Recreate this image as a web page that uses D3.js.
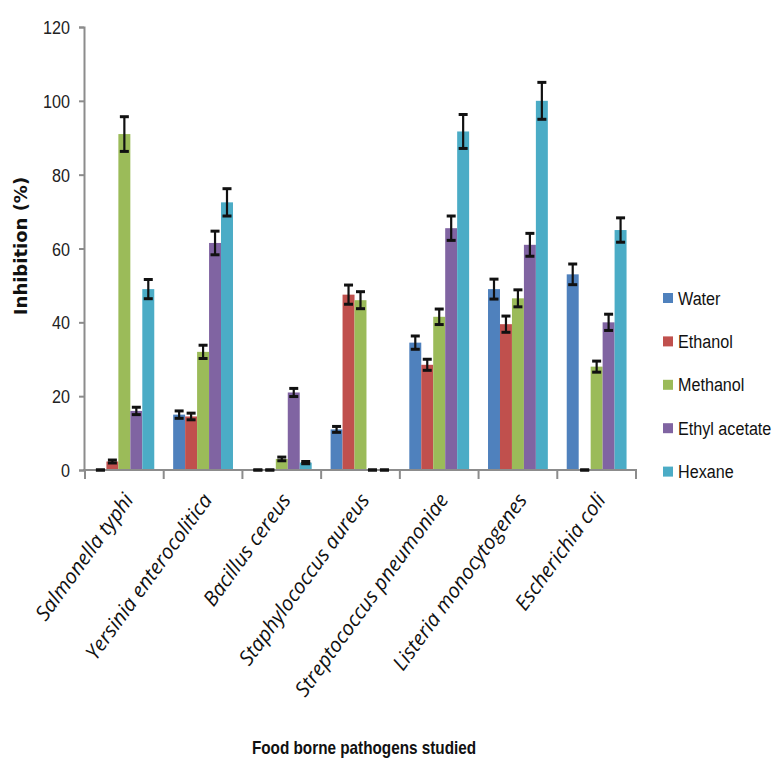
<!DOCTYPE html>
<html>
<head>
<meta charset="utf-8">
<script src="https://cdn.jsdelivr.net/npm/d3@7"></script>
<style>
  body { margin: 0; background: #fff; }
  svg { display: block; }
</style>
</head>
<body>
<svg width="775" height="763"></svg>
<script>
// pathogens on the x axis
var categories = ["Salmonella typhi", "Yersinia enterocolitica", "Bacillus cereus",
  "Staphylococcus aureus", "Streptococcus pneumoniae", "Listeria monocytogenes", "Escherichia coli"];

var seriesNames = ["Water", "Ethanol", "Methanol", "Ethyl acetate", "Hexane"];
var colors = ["#4F81BD", "#C0504D", "#9BBB59", "#8064A2", "#4BACC6"];

// inhibition (%) per extract
var water        = [0, 15, 0, 11, 34.5, 49, 53];
var ethanol      = [2.3, 14.5, 0, 47.5, 28.5, 39.5, 0];
var methanol     = [91, 32, 3, 46, 41.5, 46.5, 28];
var ethylAcetate = [16, 61.5, 21, 0, 65.5, 61, 40];
var hexane       = [49, 72.5, 2, 0, 91.7, 100, 65];

// error bars (+/-)
var waterErr        = [0, 1, 0, 0.8, 1.8, 2.7, 2.8];
var ethanolErr      = [0.4, 0.9, 0, 2.6, 1.5, 2.2, 0];
var methanolErr     = [4.7, 1.8, 0.5, 2.3, 2.1, 2.3, 1.5];
var ethylAcetateErr = [1, 3.2, 1.1, 0, 3.3, 3.1, 2.2];
var hexaneErr       = [2.6, 3.7, 0.3, 0, 4.6, 5, 3.3];

var yTicks = [0, 20, 40, 60, 80, 100, 120];

var values = [water, ethanol, methanol, ethylAcetate, hexane];
var errs = [waterErr, ethanolErr, methanolErr, ethylAcetateErr, hexaneErr];

var svg = d3.select("svg");
var sans = "'Liberation Sans', Arial, sans-serif";
var axisColor = "#8c8c8c";
var squeeze = 0.85; // narrow look for the Calibri-ish texts

var x0 = d3.scaleBand().domain(categories).range([85, 636]);
var bw = x0.bandwidth();
var x1 = d3.scaleBand().domain(seriesNames).range([bw * 0.12, bw * 0.88]);
var y = d3.scaleLinear().domain([0, 120]).range([470, 27]);

// flatten into rows for drawing
var rows = [];
categories.forEach(function(c, i) {
  seriesNames.forEach(function(s, j) {
    rows.push({cat: c, series: s, color: colors[j], v: values[j][i], e: errs[j][i]});
  });
});

function cx(d) { return x0(d.cat) + x1(d.series) + x1.bandwidth() / 2; }

// bars
svg.append("g").selectAll("rect")
  .data(rows)
  .join("rect")
  .attr("x", function(d) { return x0(d.cat) + x1(d.series); })
  .attr("y", function(d) { return y(d.v); })
  .attr("width", x1.bandwidth())
  .attr("height", function(d) { return y(0) - y(d.v); })
  .attr("fill", function(d) { return d.color; });

// y axis
var yAxis = svg.append("g")
  .attr("transform", "translate(84,0)")
  .call(d3.axisLeft(y).tickValues(yTicks).tickSize(5).tickPadding(0).tickFormat(""));
yAxis.select(".domain").attr("stroke", axisColor).attr("stroke-width", 2);
yAxis.selectAll(".tick line").attr("stroke", axisColor).attr("stroke-width", 2);
yAxis.selectAll(".tick").append("text")
  .attr("transform", "translate(-14,0) scale(" + squeeze + ",1)")
  .attr("dy", "0.35em")
  .attr("text-anchor", "end")
  .attr("fill", "#222")
  .style("font-family", sans)
  .style("font-size", "19px")
  .text(function(d) { return d; });

// x axis line and category boundary ticks
svg.append("line")
  .attr("x1", 83).attr("x2", 637)
  .attr("y1", y(0)).attr("y2", y(0))
  .attr("stroke", axisColor).attr("stroke-width", 2);
var bounds = categories.map(function(c) { return x0(c); }).concat([x0.range()[1]]);
svg.append("g").selectAll("line")
  .data(bounds)
  .join("line")
  .attr("x1", function(d) { return d; })
  .attr("x2", function(d) { return d; })
  .attr("y1", y(0)).attr("y2", y(0) + 9)
  .attr("stroke", axisColor).attr("stroke-width", 2);

// error bars
var eb = svg.append("g").attr("stroke", "#111");
eb.selectAll("line.stem")
  .data(rows)
  .join("line")
  .attr("class", "stem")
  .attr("x1", cx).attr("x2", cx)
  .attr("y1", function(d) { return y(d.v + d.e); })
  .attr("y2", function(d) { return y(Math.max(0, d.v - d.e)); })
  .attr("stroke-width", 2.2);
["top", "bot"].forEach(function(k) {
  eb.selectAll("line.cap" + k)
    .data(rows)
    .join("line")
    .attr("class", "cap" + k)
    .attr("x1", function(d) { return cx(d) - 4.5; })
    .attr("x2", function(d) { return cx(d) + 4.5; })
    .attr("y1", function(d) { return y(k == "top" ? d.v + d.e : Math.max(0, d.v - d.e)); })
    .attr("y2", function(d) { return y(k == "top" ? d.v + d.e : Math.max(0, d.v - d.e)); })
    .attr("stroke-width", 3);
});

// category labels, rotated
svg.append("g").selectAll("text")
  .data(categories)
  .join("text")
  .attr("transform", function(d) {
    return "translate(" + (x0(d) + bw / 2 + 10) + "," + 500 + ") rotate(-54)";
  })
  .attr("text-anchor", "end")
  .style("font-family", "'Open Sans', sans-serif")
  .style("font-style", "italic")
  .style("font-size", "20.5px")
  .attr("fill", "#111")
  .text(function(d) { return d; });

// axis titles
svg.append("text")
  .attr("transform", "translate(27,246) rotate(-90)")
  .attr("text-anchor", "middle")
  .style("font-family", "'DejaVu Sans', sans-serif")
  .style("font-weight", "bold")
  .style("font-size", "18px")
  .attr("fill", "#111")
  .text("Inhibition (%)");

svg.append("text")
  .attr("transform", "translate(364,754) scale(" + squeeze + ",1)")
  .attr("text-anchor", "middle")
  .style("font-family", sans)
  .style("font-weight", "bold")
  .style("font-size", "18px")
  .attr("fill", "#111")
  .text("Food borne pathogens studied");

// legend
var leg = svg.append("g").selectAll("g")
  .data(seriesNames)
  .join("g")
  .attr("transform", function(d, i) { return "translate(663," + (298 + i * 43.4) + ")"; });
leg.append("rect")
  .attr("x", 0).attr("y", -5)
  .attr("width", 10).attr("height", 10)
  .attr("fill", function(d, i) { return colors[i]; });
leg.append("text")
  .attr("transform", "translate(15,0) scale(" + squeeze + ",1)")
  .attr("dy", "0.35em")
  .style("font-family", sans)
  .style("font-size", "19px")
  .attr("fill", "#111")
  .text(function(d) { return d; });
</script>
</body>
</html>
